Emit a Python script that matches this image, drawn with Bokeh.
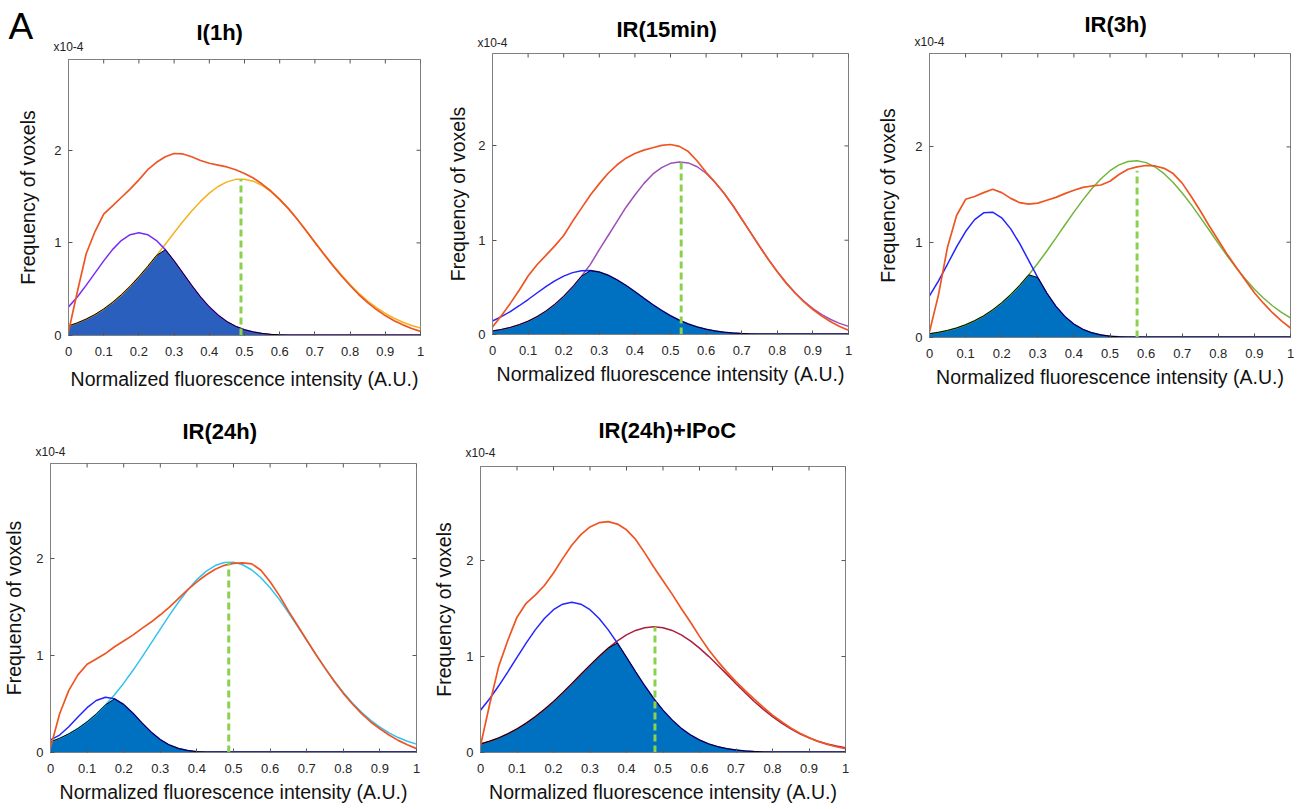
import numpy as np
from bokeh.plotting import figure
from bokeh.layouts import column, row
from bokeh.models import Range1d, FixedTicker, NumeralTickFormatter, Title
from bokeh.embed import file_html
from bokeh.resources import INLINE

# ---------------- data (units of 1e-4) ----------------
XS = [0.0, 0.025, 0.05, 0.075, 0.1, 0.125, 0.15, 0.175, 0.2, 0.225, 0.25, 0.275,
      0.3, 0.325, 0.35, 0.375, 0.4, 0.425, 0.45, 0.475, 0.5, 0.525, 0.55, 0.575,
      0.6, 0.625, 0.65, 0.675, 0.7, 0.725, 0.75, 0.775, 0.8, 0.825, 0.85, 0.875,
      0.9, 0.925, 0.95, 0.975, 1.0]

TITLES = ["I(1h)", "IR(15min)", "IR(3h)", "IR(24h)", "IR(24h)+IPoC"]
X_TICKS = [0, 0.1, 0.2, 0.3, 0.4, 0.5, 0.6, 0.7, 0.8, 0.9, 1]
Y_TICKS = [0, 1, 2]
Y_MAX = 2.98
X_LABEL = "Normalized fluorescence intensity (A.U.)"
Y_LABEL = "Frequency of voxels"
SCALE_NOTE = "x10-4"
PANEL_LETTER = "A"

TOTAL_I1H = [0.04, 0.47, 0.88, 1.12, 1.31, 1.40, 1.49, 1.58, 1.68, 1.79, 1.87, 1.93, 1.965, 1.96,
             1.93, 1.89, 1.86, 1.84, 1.82, 1.79, 1.75, 1.70, 1.635, 1.56, 1.47, 1.37, 1.255, 1.13,
             1.005, 0.88, 0.76, 0.645, 0.54, 0.44, 0.355, 0.28, 0.215, 0.16, 0.115, 0.075, 0.045]
LOW_I1H = [0.309, 0.416, 0.541, 0.674, 0.806, 0.927, 1.025, 1.088, 1.11, 1.088, 1.025, 0.927, 0.806,
           0.674, 0.541, 0.416, 0.309, 0.220, 0.150, 0.099, 0.062, 0.038, 0.022, 0.012, 0.007, 0.005,
           0.005, 0.005, 0.005, 0.005, 0.005, 0.005, 0.005, 0.005, 0.005, 0.005, 0.005, 0.005, 0.005,
           0.005, 0.005]
HIGH_I1H = [0.103, 0.136, 0.177, 0.226, 0.286, 0.357, 0.439, 0.531, 0.634, 0.745, 0.863, 0.986, 1.109,
            1.230, 1.344, 1.448, 1.537, 1.609, 1.659, 1.686, 1.688, 1.666, 1.620, 1.553, 1.467, 1.366,
            1.254, 1.134, 1.010, 0.887, 0.768, 0.655, 0.551, 0.456, 0.372, 0.300, 0.238, 0.186, 0.143,
            0.108, 0.081]

TOTAL_IR15 = [0.08, 0.20, 0.33, 0.47, 0.62, 0.74, 0.84, 0.94, 1.05, 1.20, 1.34, 1.48, 1.60, 1.71, 1.80,
              1.87, 1.92, 1.955, 1.98, 2.005, 2.015, 1.995, 1.94, 1.84, 1.72, 1.615, 1.50, 1.37, 1.225,
              1.08, 0.935, 0.795, 0.665, 0.545, 0.44, 0.345, 0.265, 0.195, 0.135, 0.085, 0.045]
LOW_IR15 = [0.143, 0.189, 0.243, 0.305, 0.371, 0.440, 0.507, 0.568, 0.619, 0.656, 0.677, 0.678, 0.662,
            0.628, 0.579, 0.520, 0.454, 0.385, 0.318, 0.255, 0.199, 0.151, 0.112, 0.080, 0.056, 0.038,
            0.025, 0.016, 0.010, 0.006, 0.005, 0.005, 0.005, 0.005, 0.005, 0.005, 0.005, 0.005, 0.005,
            0.005, 0.005]
HIGH_IR15 = [0.037, 0.053, 0.075, 0.104, 0.141, 0.189, 0.248, 0.320, 0.405, 0.505, 0.618, 0.744, 0.90,
             1.05, 1.20, 1.35, 1.48, 1.60, 1.70, 1.77, 1.815, 1.830, 1.820, 1.779, 1.710, 1.615, 1.499,
             1.368, 1.226, 1.081, 0.936, 0.797, 0.667, 0.548, 0.443, 0.352, 0.275, 0.211, 0.159, 0.118,
             0.086]

TOTAL_IR3 = [0.06, 0.45, 0.95, 1.28, 1.45, 1.48, 1.52, 1.555, 1.52, 1.46, 1.415, 1.40, 1.41, 1.44, 1.47,
             1.51, 1.545, 1.575, 1.59, 1.60, 1.64, 1.71, 1.765, 1.79, 1.805, 1.80, 1.775, 1.72, 1.62,
             1.48, 1.33, 1.17, 1.02, 0.87, 0.735, 0.60, 0.47, 0.36, 0.26, 0.175, 0.10]
LOW_IR3 = [0.436, 0.595, 0.771, 0.950, 1.112, 1.237, 1.308, 1.315, 1.256, 1.140, 0.984, 0.807, 0.629,
           0.466, 0.328, 0.220, 0.140, 0.085, 0.049, 0.027, 0.014, 0.007, 0.005, 0.005, 0.005, 0.005,
           0.005, 0.005, 0.005, 0.005, 0.005, 0.005, 0.005, 0.005, 0.005, 0.005, 0.005, 0.005, 0.005,
           0.005, 0.005]
HIGH_IR3 = [0.039, 0.054, 0.074, 0.100, 0.134, 0.176, 0.227, 0.290, 0.364, 0.450, 0.548, 0.658, 0.779,
            0.908, 1.043, 1.180, 1.315, 1.444, 1.563, 1.666, 1.750, 1.811, 1.846, 1.855, 1.835, 1.789,
            1.719, 1.627, 1.517, 1.394, 1.261, 1.125, 0.988, 0.855, 0.730, 0.613, 0.507, 0.414, 0.333,
            0.263, 0.205]

TOTAL_IR24 = [0.05, 0.40, 0.64, 0.80, 0.91, 0.965, 1.02, 1.09, 1.15, 1.21, 1.28, 1.345, 1.42, 1.50,
              1.59, 1.68, 1.76, 1.83, 1.89, 1.93, 1.95, 1.955, 1.945, 1.88, 1.76, 1.62, 1.46, 1.31,
              1.16, 1.01, 0.87, 0.735, 0.61, 0.50, 0.40, 0.315, 0.245, 0.18, 0.125, 0.08, 0.04]
LOW_IR24 = [0.13, 0.18, 0.266, 0.366, 0.462, 0.536, 0.569, 0.554, 0.495, 0.406, 0.305, 0.210, 0.133,
            0.077, 0.041, 0.020, 0.009, 0.005, 0.005, 0.005, 0.005, 0.005, 0.005, 0.005, 0.005, 0.005,
            0.005, 0.005, 0.005, 0.005, 0.005, 0.005, 0.005, 0.005, 0.005, 0.005, 0.005, 0.005, 0.005,
            0.005, 0.005]
HIGH_IR24 = [0.110, 0.146, 0.192, 0.248, 0.316, 0.396, 0.490, 0.596, 0.715, 0.845, 0.983, 1.127, 1.273,
             1.417, 1.552, 1.676, 1.783, 1.868, 1.928, 1.960, 1.963, 1.936, 1.882, 1.802, 1.699, 1.579,
             1.444, 1.302, 1.157, 1.012, 0.872, 0.740, 0.619, 0.510, 0.414, 0.331, 0.261, 0.202, 0.154,
             0.116, 0.086]

TOTAL_IPOC = [0.07, 0.50, 0.90, 1.17, 1.41, 1.555, 1.64, 1.74, 1.87, 2.02, 2.16, 2.27, 2.35, 2.395,
              2.405, 2.38, 2.32, 2.22, 2.08, 1.93, 1.79, 1.65, 1.50, 1.36, 1.21, 1.07, 0.95, 0.84, 0.74,
              0.645, 0.555, 0.47, 0.39, 0.32, 0.255, 0.20, 0.155, 0.115, 0.085, 0.06, 0.04]
LOW_IPOC = [0.441, 0.560, 0.695, 0.841, 0.992, 1.140, 1.278, 1.396, 1.488, 1.545, 1.565, 1.545, 1.488,
            1.396, 1.278, 1.140, 0.992, 0.841, 0.695, 0.560, 0.441, 0.338, 0.252, 0.184, 0.130, 0.090,
            0.061, 0.040, 0.026, 0.016, 0.010, 0.006, 0.005, 0.005, 0.005, 0.005, 0.005, 0.005, 0.005,
            0.005, 0.005]
HIGH_IPOC = [0.089, 0.118, 0.152, 0.195, 0.246, 0.305, 0.373, 0.449, 0.532, 0.623, 0.717, 0.814, 0.910,
             1.002, 1.088, 1.163, 1.225, 1.272, 1.300, 1.310, 1.300, 1.272, 1.225, 1.163, 1.088, 1.002,
             0.910, 0.814, 0.717, 0.623, 0.532, 0.449, 0.373, 0.305, 0.246, 0.195, 0.152, 0.118, 0.089,
             0.067, 0.049]

PEAK_X = [0.49, 0.53, 0.575, 0.487, 0.478]
PEAK_Y = [1.69, 1.83, 1.75, 1.96, 1.31]

TOTALS = [TOTAL_I1H, TOTAL_IR15, TOTAL_IR3, TOTAL_IR24, TOTAL_IPOC]
LOWS = [LOW_I1H, LOW_IR15, LOW_IR3, LOW_IR24, LOW_IPOC]
HIGHS = [HIGH_I1H, HIGH_IR15, HIGH_IR3, HIGH_IR24, HIGH_IPOC]

# ---------------- styles / positions ----------------
FONT = "Liberation Sans"
RED = "#EE5522"
DASH_GREEN = "#8CD14E"
AXIS_GRAY = "#808080"
TICK_GRAY = "#555555"
# tx: title left offset from frame, nc/tc: centre height of note / title above the frame
STYLE = [
    dict(c1="#7A2CF5", c2="#F5B120", fill="#2A5FBD", left=68, right=10, top=59, bottom=65,
         fw=352, fh=276, tx=128, nc=13, tc=27, ys=12, xs=9),
    dict(c1="#2424FF", c2="#9E4FB5", fill="#0070C0", left=62, right=10, top=53, bottom=66,
         fw=356, fh=281, tx=124, nc=11, tc=24, ys=6, xs=5),
    dict(c1="#2424FF", c2="#72B53A", fill="#0070C0", left=71, right=6, top=53, bottom=63,
         fw=361, fh=284, tx=155, nc=12, tc=29, ys=13, xs=5),
    dict(c1="#2424FF", c2="#33C2F0", fill="#0070C0", left=50, right=8, top=63, bottom=52,
         fw=366, fh=289, tx=132, nc=12, tc=32, ys=8, xs=5),
    dict(c1="#2424FF", c2="#A8203F", fill="#0070C0", left=56, right=10, top=66, bottom=52,
         fw=365, fh=286, tx=118, nc=14, tc=36, ys=8, xs=5),
]
NOTE_H, TITLE_H, LETTER_H = 13.8, 25.3, 41.4   # approximate text box heights
LETTER_CENTER = 33


def make_panel(i):
    s = STYLE[i]
    total = np.array(TOTALS[i])
    low = np.array(LOWS[i])
    high = np.array(HIGHS[i])
    overlap = np.minimum(low, high)

    p = figure(title=None, frame_width=s["fw"], frame_height=s["fh"],
               x_range=Range1d(0, 1), y_range=Range1d(0, Y_MAX),
               output_backend="svg", toolbar_location=None,
               min_border_left=s["left"], min_border_right=s["right"],
               min_border_top=s["top"], min_border_bottom=s["bottom"],
               outline_line_color=AXIS_GRAY, outline_line_width=1,
               background_fill_color="white", border_fill_color="white")
    p.frame_align = False
    p.grid.visible = False

    xa = p.xaxis[0]
    ya = p.yaxis[0]
    xa.ticker = FixedTicker(ticks=X_TICKS)
    xa.formatter = NumeralTickFormatter(format="0.[0]")
    ya.ticker = FixedTicker(ticks=Y_TICKS)
    for ax in (xa, ya):
        ax.major_tick_in = 4
        ax.major_tick_out = 0
        ax.minor_tick_line_color = None
        ax.axis_line_color = AXIS_GRAY
        ax.major_tick_line_color = TICK_GRAY
        ax.major_label_text_font = FONT
        ax.major_label_text_font_size = "13px"
        ax.major_label_text_color = "#262626"
        ax.axis_label_text_font = FONT
        ax.axis_label_text_font_size = "19.5px"
        ax.axis_label_text_font_style = "normal"
        ax.axis_label_text_color = "#111111"
    xa.axis_label = X_LABEL
    ya.axis_label = Y_LABEL
    xa.major_label_standoff = 11
    ya.major_label_standoff = 7
    xa.axis_label_standoff = s["xs"]
    ya.axis_label_standoff = s["ys"]

    # inward ticks on the top and right edges (half of each dash is clipped by the frame)
    p.scatter(x=X_TICKS, y=[Y_MAX] * len(X_TICKS), marker="dash", size=8, angle=np.pi / 2,
              line_color=TICK_GRAY, line_width=1)
    p.scatter(x=[1] * len(Y_TICKS), y=Y_TICKS, marker="dash", size=8,
              line_color=TICK_GRAY, line_width=1)

    # marks
    p.varea(x=XS, y1=np.zeros(len(XS)), y2=overlap, fill_color=s["fill"])
    p.line(XS, high, line_color=s["c2"], line_width=1.5)
    p.line(XS, low, line_color=s["c1"], line_width=1.5)
    p.line(XS, overlap, line_color="black", line_width=1.0)
    p.line(XS, total, line_color=RED, line_width=1.7)
    p.segment(x0=[PEAK_X[i]], y0=[0], x1=[PEAK_X[i]], y1=[PEAK_Y[i]],
              line_color=DASH_GREEN, line_width=3, line_dash="7 4")

    # texts above the frame, stacked from the frame outward
    h1 = 2 * s["nc"]
    h2 = max(2, 2 * (s["tc"] - h1))
    p.add_layout(Title(text=SCALE_NOTE, align="left", offset=-15, vertical_align="middle",
                       standoff=h1 - 2 - NOTE_H, text_font=FONT, text_font_size="12px",
                       text_font_style="normal", text_color="#222222"), "above")
    p.add_layout(Title(text=TITLES[i], align="left", offset=s["tx"], vertical_align="middle",
                       standoff=h2 - 2 - TITLE_H, text_font=FONT, text_font_size="22px",
                       text_font_style="bold", text_color="black"), "above")
    if i == 0:
        h3 = max(2, 2 * (LETTER_CENTER - h1 - h2))
        p.add_layout(Title(text=PANEL_LETTER, align="left", offset=-60, vertical_align="middle",
                           standoff=h3 - 2 - LETTER_H, text_font=FONT, text_font_size="37px",
                           text_font_style="normal", text_color="black"), "above")
    return p


figs = [make_panel(i) for i in range(5)]
layout = column(row(figs[0], figs[1], figs[2]), row(figs[3], figs[4]))

with open("out.html", "w") as f:
    f.write(file_html(layout, INLINE))
